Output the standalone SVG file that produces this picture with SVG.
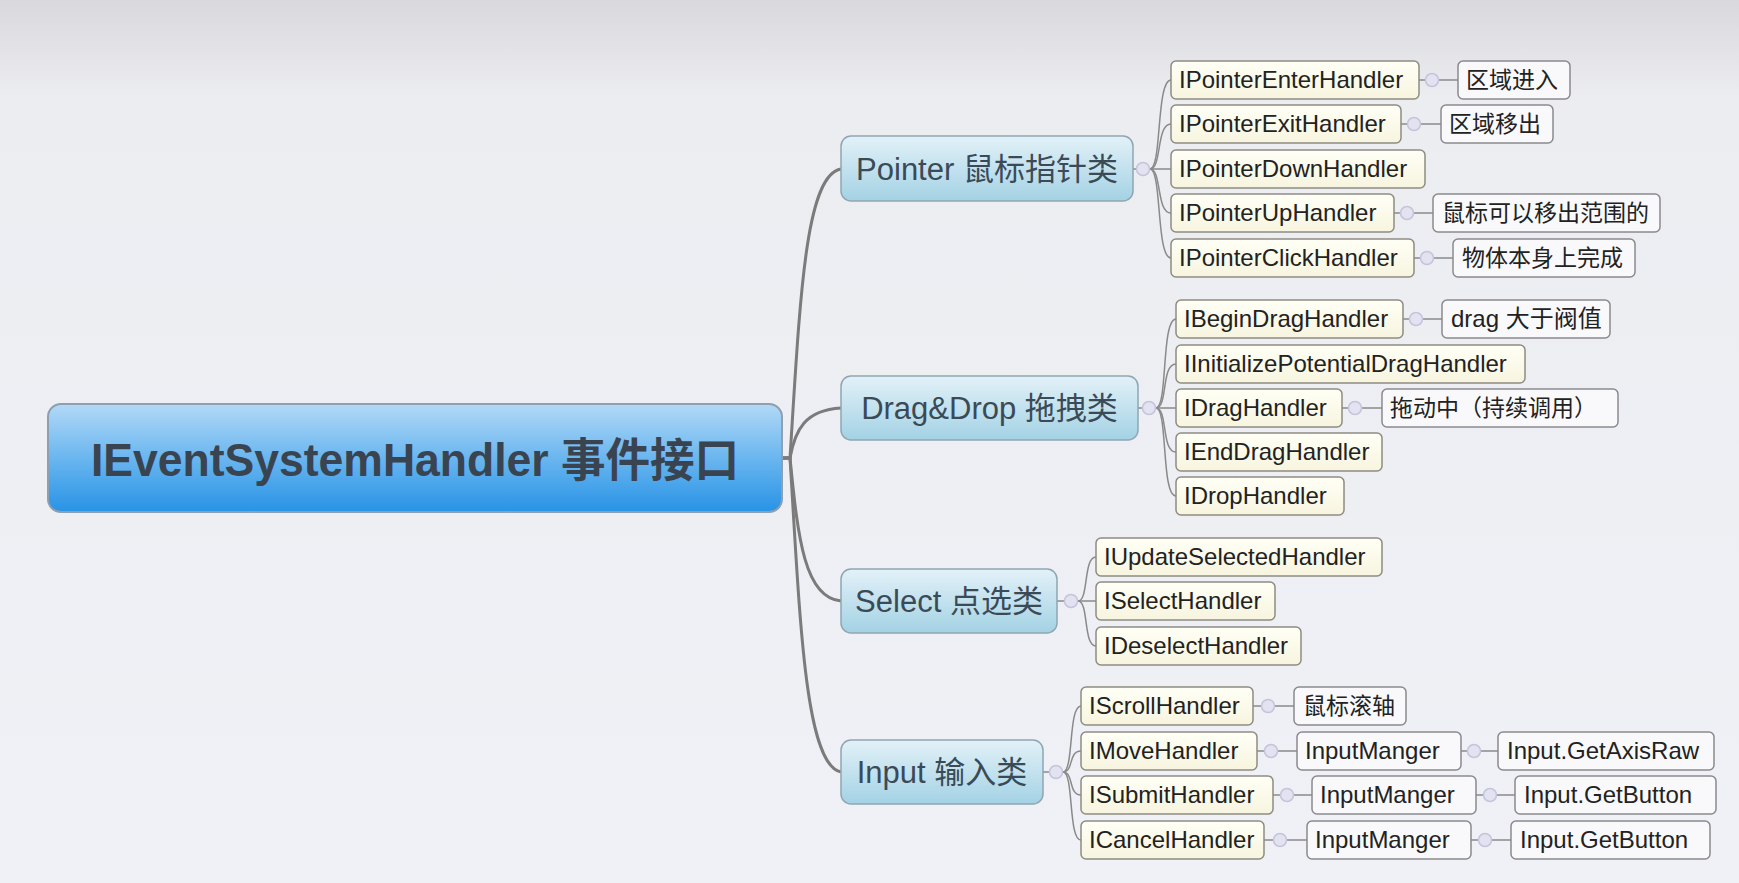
<svg xmlns="http://www.w3.org/2000/svg" width="1739" height="883" viewBox="0 0 1739 883">
<style>
.t{font-family:"Liberation Sans","Noto Sans CJK SC",sans-serif;fill:#222}
.rootT{font-family:"Liberation Sans","Noto Sans CJK SC",sans-serif;font-weight:bold;font-size:46px;fill:#3a4450}
.l1T{font-family:"Liberation Sans","Noto Sans CJK SC",sans-serif;font-size:31px;fill:#3b4a57}
.lat{font-size:24px}
.cjk{font-size:23px}
.l2{fill:url(#gL2);stroke:#8e8c82;stroke-width:1.5}
.l3{fill:#f9f9fb;stroke:#8a8a8e;stroke-width:1.5}
.l1{fill:url(#gL1);stroke:#8fa6b2;stroke-width:1.5}
.main{fill:none;stroke:#7b7b7b;stroke-width:3}
.sub{fill:none;stroke:#8a8a8a;stroke-width:1.5}
.knob{fill:#e2e2f0;stroke:#c4c4dc;stroke-width:1.5}
</style>
<defs>
<linearGradient id="bg" x1="0" y1="0" x2="0" y2="1">
<stop offset="0" stop-color="#d9d9dd"/>
<stop offset="0.11" stop-color="#ecedf1"/>
<stop offset="1" stop-color="#eff1f6"/>
</linearGradient>
<linearGradient id="gRoot" x1="0" y1="0" x2="0" y2="1">
<stop offset="0" stop-color="#b3d9f6"/>
<stop offset="0.5" stop-color="#6ab6ef"/>
<stop offset="1" stop-color="#2893e6"/>
</linearGradient>
<linearGradient id="gL1" x1="0" y1="0" x2="0" y2="1">
<stop offset="0" stop-color="#e3f1f8"/>
<stop offset="1" stop-color="#a3d2e4"/>
</linearGradient>
<linearGradient id="gL2" x1="0" y1="0" x2="0" y2="1">
<stop offset="0" stop-color="#fffff6"/>
<stop offset="1" stop-color="#f7f5df"/>
</linearGradient>
</defs>
<rect x="0" y="0" width="1739" height="883" fill="url(#bg)"/>

<g id="connectors">
<path class="main" d="M782 458 L790 458 C800 300 805 175 841 169"/>
<path class="main" d="M782 458 L790 458 C795 430 805 410 841 408"/>
<path class="main" d="M782 458 L790 458 C798 540 805 598 841 601"/>
<path class="main" d="M782 458 L790 458 C800 620 805 765 841 772"/>
<!-- Pointer -->
<line class="sub" x1="1133" y1="169" x2="1150" y2="169"/>
<path class="sub" d="M1150 169 C1162 169 1156 80 1171 80"/>
<path class="sub" d="M1150 169 C1162 169 1156 124 1171 124"/>
<path class="sub" d="M1150 169 L1171 169"/>
<path class="sub" d="M1150 169 C1162 169 1156 213 1171 213"/>
<path class="sub" d="M1150 169 C1162 169 1156 258 1171 258"/>
<circle class="knob" cx="1143" cy="169" r="6.5"/>
<line class="sub" x1="1419" y1="80" x2="1458" y2="80"/><circle class="knob" cx="1432" cy="80" r="6.5"/>
<line class="sub" x1="1401" y1="124" x2="1441" y2="124"/><circle class="knob" cx="1414" cy="124" r="6.5"/>
<line class="sub" x1="1394" y1="213" x2="1433" y2="213"/><circle class="knob" cx="1407" cy="213" r="6.5"/>
<line class="sub" x1="1414" y1="258" x2="1453" y2="258"/><circle class="knob" cx="1427" cy="258" r="6.5"/>
<!-- Drag -->
<line class="sub" x1="1138" y1="408" x2="1156" y2="408"/>
<path class="sub" d="M1156 408 C1168 408 1161 319 1176 319"/>
<path class="sub" d="M1156 408 C1168 408 1161 364 1176 364"/>
<path class="sub" d="M1156 408 L1176 408"/>
<path class="sub" d="M1156 408 C1168 408 1161 452 1176 452"/>
<path class="sub" d="M1156 408 C1168 408 1161 496 1176 496"/>
<circle class="knob" cx="1149" cy="408" r="6.5"/>
<line class="sub" x1="1403" y1="319" x2="1442" y2="319"/><circle class="knob" cx="1416" cy="319" r="6.5"/>
<line class="sub" x1="1342" y1="408" x2="1382" y2="408"/><circle class="knob" cx="1355" cy="408" r="6.5"/>
<!-- Select -->
<line class="sub" x1="1057" y1="601" x2="1078" y2="601"/>
<path class="sub" d="M1078 601 C1089 601 1083 557 1096 557"/>
<path class="sub" d="M1078 601 L1096 601"/>
<path class="sub" d="M1078 601 C1089 601 1083 646 1096 646"/>
<circle class="knob" cx="1071" cy="601" r="6.5"/>
<!-- Input -->
<line class="sub" x1="1043" y1="772" x2="1063" y2="772"/>
<path class="sub" d="M1063 772 C1074 772 1068 706 1081 706"/>
<path class="sub" d="M1063 772 C1074 772 1068 751 1081 751"/>
<path class="sub" d="M1063 772 C1074 772 1068 795 1081 795"/>
<path class="sub" d="M1063 772 C1074 772 1068 840 1081 840"/>
<circle class="knob" cx="1056" cy="772" r="6.5"/>
<line class="sub" x1="1253" y1="706" x2="1294" y2="706"/><circle class="knob" cx="1268" cy="706" r="6.5"/>
<line class="sub" x1="1257" y1="751" x2="1297" y2="751"/><circle class="knob" cx="1271" cy="751" r="6.5"/>
<line class="sub" x1="1461" y1="751" x2="1498" y2="751"/><circle class="knob" cx="1474" cy="751" r="6.5"/>
<line class="sub" x1="1273" y1="795" x2="1312" y2="795"/><circle class="knob" cx="1287" cy="795" r="6.5"/>
<line class="sub" x1="1476" y1="795" x2="1515" y2="795"/><circle class="knob" cx="1490" cy="795" r="6.5"/>
<line class="sub" x1="1264" y1="840" x2="1307" y2="840"/><circle class="knob" cx="1280" cy="840" r="6.5"/>
<line class="sub" x1="1471" y1="840" x2="1511" y2="840"/><circle class="knob" cx="1485" cy="840" r="6.5"/>
</g>

<g id="root">
<rect x="48" y="404" width="734" height="108" rx="13" fill="url(#gRoot)" stroke="#8d9fb0" stroke-width="2"/>
<text class="rootT" x="415" y="476" text-anchor="middle" textLength="648" lengthAdjust="spacingAndGlyphs">IEventSystemHandler 事件接口</text>
</g>

<g id="n-pointer"><rect class="l1" x="841" y="136" width="292" height="65" rx="10"/><text class="l1T" x="987" y="180" text-anchor="middle">Pointer 鼠标指针类</text></g>
<g id="n-drag"><rect class="l1" x="841" y="376" width="297" height="64" rx="10"/><text class="l1T" x="989.5" y="419" text-anchor="middle">Drag&amp;Drop 拖拽类</text></g>
<g id="n-select"><rect class="l1" x="841" y="569" width="216" height="64" rx="10"/><text class="l1T" x="949" y="612" text-anchor="middle">Select 点选类</text></g>
<g id="n-input"><rect class="l1" x="841" y="740" width="202" height="64" rx="10"/><text class="l1T" x="942" y="783" text-anchor="middle">Input 输入类</text></g>

<g id="n-enter"><rect class="l2" x="1171" y="61" width="248" height="38" rx="5"/><text class="t lat" x="1179" y="88">IPointerEnterHandler</text></g>
<g id="n-exit"><rect class="l2" x="1171" y="105" width="230" height="38" rx="5"/><text class="t lat" x="1179" y="132">IPointerExitHandler</text></g>
<g id="n-down"><rect class="l2" x="1171" y="150" width="254" height="38" rx="5"/><text class="t lat" x="1179" y="177">IPointerDownHandler</text></g>
<g id="n-up"><rect class="l2" x="1171" y="194" width="223" height="38" rx="5"/><text class="t lat" x="1179" y="221">IPointerUpHandler</text></g>
<g id="n-click"><rect class="l2" x="1171" y="239" width="243" height="38" rx="5"/><text class="t lat" x="1179" y="266">IPointerClickHandler</text></g>

<g id="n-enter-note"><rect class="l3" x="1458" y="61" width="112" height="38" rx="5"/><text class="t cjk" x="1466" y="88">区域进入</text></g>
<g id="n-exit-note"><rect class="l3" x="1441" y="105" width="112" height="38" rx="5"/><text class="t cjk" x="1449" y="132">区域移出</text></g>
<g id="n-up-note"><rect class="l3" x="1433" y="194" width="227" height="38" rx="5"/><text class="t cjk" x="1442" y="221">鼠标可以移出范围的</text></g>
<g id="n-click-note"><rect class="l3" x="1453" y="239" width="182" height="38" rx="5"/><text class="t cjk" x="1462" y="266">物体本身上完成</text></g>

<g id="n-begindrag"><rect class="l2" x="1176" y="300" width="227" height="38" rx="5"/><text class="t lat" x="1184" y="327">IBeginDragHandler</text></g>
<g id="n-initdrag"><rect class="l2" x="1176" y="345" width="349" height="38" rx="5"/><text class="t lat" x="1184" y="372">IInitializePotentialDragHandler</text></g>
<g id="n-dragh"><rect class="l2" x="1176" y="389" width="166" height="38" rx="5"/><text class="t lat" x="1184" y="416">IDragHandler</text></g>
<g id="n-enddrag"><rect class="l2" x="1176" y="433" width="206" height="38" rx="5"/><text class="t lat" x="1184" y="460">IEndDragHandler</text></g>
<g id="n-drop"><rect class="l2" x="1176" y="477" width="168" height="38" rx="5"/><text class="t lat" x="1184" y="504">IDropHandler</text></g>
<g id="n-begindrag-note"><rect class="l3" x="1442" y="300" width="168" height="38" rx="5"/><text class="t lat" x="1451" y="327">drag 大于阀值</text></g>
<g id="n-dragh-note"><rect class="l3" x="1382" y="389" width="236" height="38" rx="5"/><text class="t cjk" x="1390" y="416">拖动中（持续调用）</text></g>

<g id="n-updsel"><rect class="l2" x="1096" y="538" width="286" height="38" rx="5"/><text class="t lat" x="1104" y="565">IUpdateSelectedHandler</text></g>
<g id="n-sel"><rect class="l2" x="1096" y="582" width="179" height="38" rx="5"/><text class="t lat" x="1104" y="609">ISelectHandler</text></g>
<g id="n-desel"><rect class="l2" x="1096" y="627" width="205" height="38" rx="5"/><text class="t lat" x="1104" y="654">IDeselectHandler</text></g>

<g id="n-scroll"><rect class="l2" x="1081" y="687" width="172" height="38" rx="5"/><text class="t lat" x="1089" y="714">IScrollHandler</text></g>
<g id="n-move"><rect class="l2" x="1081" y="732" width="176" height="38" rx="5"/><text class="t lat" x="1089" y="759">IMoveHandler</text></g>
<g id="n-submit"><rect class="l2" x="1081" y="776" width="192" height="38" rx="5"/><text class="t lat" x="1089" y="803">ISubmitHandler</text></g>
<g id="n-cancel"><rect class="l2" x="1081" y="821" width="183" height="38" rx="5"/><text class="t lat" x="1089" y="848">ICancelHandler</text></g>

<g id="n-scroll-note"><rect class="l3" x="1294" y="687" width="112" height="38" rx="5"/><text class="t cjk" x="1303" y="714">鼠标滚轴</text></g>
<g id="n-move-mgr"><rect class="l3" x="1297" y="732" width="164" height="38" rx="5"/><text class="t lat" x="1305" y="759">InputManger</text></g>
<g id="n-move-api"><rect class="l3" x="1498" y="732" width="216" height="38" rx="5"/><text class="t lat" x="1507" y="759">Input.GetAxisRaw</text></g>
<g id="n-submit-mgr"><rect class="l3" x="1312" y="776" width="164" height="38" rx="5"/><text class="t lat" x="1320" y="803">InputManger</text></g>
<g id="n-submit-api"><rect class="l3" x="1515" y="776" width="201" height="38" rx="5"/><text class="t lat" x="1524" y="803">Input.GetButton</text></g>
<g id="n-cancel-mgr"><rect class="l3" x="1307" y="821" width="164" height="38" rx="5"/><text class="t lat" x="1315" y="848">InputManger</text></g>
<g id="n-cancel-api"><rect class="l3" x="1511" y="821" width="199" height="38" rx="5"/><text class="t lat" x="1520" y="848">Input.GetButton</text></g>
</svg>
